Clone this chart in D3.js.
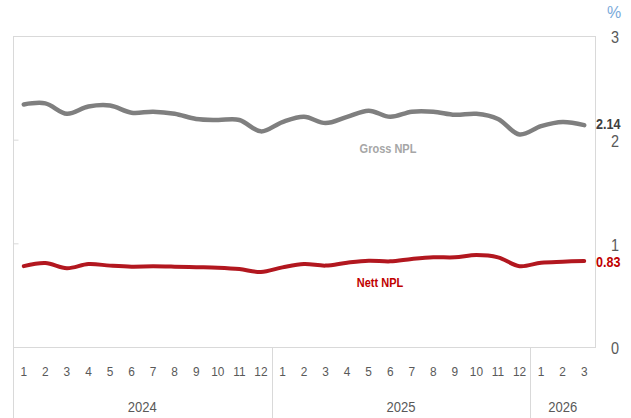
<!DOCTYPE html>
<html>
<head>
<meta charset="utf-8">
<script src="https://cdn.jsdelivr.net/npm/d3@7"></script>
<style>
  html, body { margin: 0; padding: 0; background: #fff; }
  svg { display: block; }
  text { font-family: "Liberation Sans Narrow", "Arial Narrow", "Liberation Sans", sans-serif; }
</style>
</head>
<body>
<svg id="chart" width="631" height="418"></svg>
<script>
// Monthly periods (Jan 2024 – Mar 2026)
const years = ["2024", "2025", "2026"];
const monthsPerYear = [12, 12, 3];
const monthLabels = [
  "1","2","3","4","5","6","7","8","9","10","11","12",
  "1","2","3","4","5","6","7","8","9","10","11","12",
  "1","2","3"
];

// Ratios in %
const grossNPL = [
  2.34, 2.35, 2.25, 2.32, 2.33, 2.26, 2.27, 2.25, 2.20, 2.19, 2.19, 2.08,
  2.17, 2.22, 2.16, 2.22, 2.28, 2.22, 2.27, 2.27, 2.24, 2.25, 2.20, 2.05,
  2.13, 2.17, 2.14
];
const nettNPL = [
  0.78, 0.81, 0.76, 0.80, 0.785, 0.775, 0.778, 0.775, 0.77, 0.765, 0.752, 0.723,
  0.768, 0.80, 0.785, 0.813, 0.832, 0.826, 0.849, 0.865, 0.865, 0.887, 0.865, 0.78,
  0.813, 0.823, 0.83
];
const yTicks = [0, 1, 2, 3];

(function draw() {
  const svg = d3.select("#chart");
  const mLeft = 13, mRight = 595, mTop = 36, mBottom = 347, outerBottom = 418;
  const axisColor = "#d9d9d9";

  const keys = monthLabels.map((m, i) => i);
  const x = d3.scaleBand().domain(keys).range([mLeft, mRight]).padding(0);
  const y = d3.scaleLinear().domain([0, 3]).range([mBottom, mTop]);
  const cx = i => x(i) + x.bandwidth() / 2;

  // frame
  const frame = svg.append("g").attr("stroke", axisColor).attr("stroke-width", 1).attr("fill", "none");
  frame.append("line").attr("x1", mLeft).attr("x2", mRight).attr("y1", mTop + 0.5).attr("y2", mTop + 0.5);
  frame.append("line").attr("x1", mLeft + 0.5).attr("x2", mLeft + 0.5).attr("y1", mTop).attr("y2", outerBottom);
  frame.append("line").attr("x1", mRight + 0.5).attr("x2", mRight + 0.5).attr("y1", mTop).attr("y2", mBottom);
  frame.append("line").attr("x1", mLeft).attr("x2", mRight + 1).attr("y1", mBottom + 0.5).attr("y2", mBottom + 0.5);

  // year groups and separators
  let acc = 0;
  const yearBounds = [];
  monthsPerYear.forEach((n, k) => {
    const start = acc, end = acc + n - 1;
    yearBounds.push({ year: years[k], x0: x(start), x1: x(end) + x.bandwidth() });
    acc += n;
  });
  yearBounds.slice(1).forEach(b => {
    frame.append("line")
      .attr("x1", Math.round(b.x0) + 0.5).attr("x2", Math.round(b.x0) + 0.5)
      .attr("y1", mBottom).attr("y2", outerBottom);
  });

  // small inner ticks on the left edge
  const leftAxis = svg.append("g").attr("transform", `translate(${mLeft + 0.5},0)`)
    .call(d3.axisRight(y).tickValues([1, 2]).tickSize(5).tickFormat(""));
  leftAxis.select(".domain").remove();
  leftAxis.selectAll("line").attr("stroke", axisColor);

  // right value axis (glyphs narrowed slightly)
  const rightAxis = svg.append("g").attr("transform", `translate(615,0)`)
    .call(d3.axisRight(y).tickValues(yTicks).tickSize(0).tickPadding(0).tickFormat(d3.format("d")));
  rightAxis.select(".domain").remove();
  rightAxis.selectAll(".tick").attr("transform", d => `translate(0,${y(d) + 2}) scale(0.85,1)`);
  rightAxis.selectAll("text")
    .attr("text-anchor", "middle").attr("x", 0)
    .attr("fill", "#595959").style("font-size", "17px");

  svg.append("text").attr("x", 614).attr("y", 18).attr("text-anchor", "middle")
    .attr("fill", "#7aa9da").style("font-size", "16px").text("%");

  // month axis
  const monthAxis = svg.append("g").attr("transform", `translate(0,${mBottom})`)
    .call(d3.axisBottom(x).tickSize(0).tickPadding(0).tickFormat(i => monthLabels[i]));
  monthAxis.select(".domain").remove();
  monthAxis.selectAll("text")
    .attr("y", 25).attr("dy", "0.32em")
    .attr("transform", "scale(0.88,1)")
    .attr("fill", "#595959").style("font-size", "13.5px");
  monthAxis.selectAll(".tick").attr("transform", d => `translate(${cx(d)},0) scale(0.88,1)`)
    .selectAll("text").attr("transform", null);

  // year labels
  svg.append("g").selectAll("text").data(yearBounds).join("text")
    .attr("transform", d => `translate(${(d.x0 + d.x1) / 2},407) scale(0.9,1)`)
    .attr("dy", "0.35em")
    .attr("text-anchor", "middle")
    .attr("fill", "#595959").style("font-size", "14.5px")
    .text(d => d.year);

  // series lines
  const line = d3.line().x((d, i) => cx(i)).y(d => y(d)).curve(d3.curveCatmullRom.alpha(0.5));

  svg.append("path").datum(grossNPL).attr("d", line)
    .attr("fill", "none").attr("stroke", "#7f7f7f").attr("stroke-width", 4.5)
    .attr("stroke-linecap", "round").attr("stroke-linejoin", "round");

  svg.append("path").datum(nettNPL).attr("d", line)
    .attr("fill", "none").attr("stroke", "#b2171f").attr("stroke-width", 4)
    .attr("stroke-linecap", "round").attr("stroke-linejoin", "round");

  // series names
  svg.append("text").attr("transform", "translate(388,153) scale(0.88,1)").attr("text-anchor", "middle")
    .attr("fill", "#a6a6a6").style("font-size", "12.5px").style("font-weight", "bold")
    .text("Gross NPL");
  svg.append("text").attr("transform", "translate(380,287) scale(0.88,1)").attr("text-anchor", "middle")
    .attr("fill", "#c00000").style("font-size", "12.5px").style("font-weight", "bold")
    .text("Nett NPL");

  // end-value labels
  const last = grossNPL.length - 1;
  svg.append("text").attr("transform", `translate(596,${y(grossNPL[last]) - 1}) scale(0.9,1)`).attr("dy", "0.35em")
    .attr("fill", "#404040").style("font-size", "14px").style("font-weight", "bold")
    .text(grossNPL[last].toFixed(2));
  svg.append("text").attr("transform", `translate(596,${y(nettNPL[last]) + 1}) scale(0.9,1)`).attr("dy", "0.35em")
    .attr("fill", "#c00000").style("font-size", "14px").style("font-weight", "bold")
    .text(nettNPL[last].toFixed(2));
})();
</script>
</body>
</html>
